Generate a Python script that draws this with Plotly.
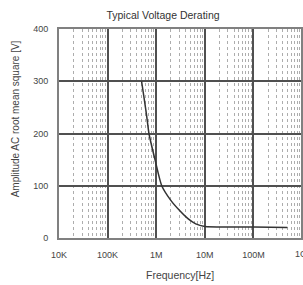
import plotly.graph_objects as go

freq_hz = [5.0e5, 5.7e5, 6.4e5, 7.1e5, 9.5e5, 1.3e6, 2.0e6, 3.0e6, 4.5e6, 6.5e6, 1.0e7, 3.0e7, 1.0e8, 5.0e8]
volt_rms = [300, 265, 232, 200, 149, 100, 72, 53, 37, 27, 22, 21, 21, 20]

tick_vals = [1e4, 1e5, 1e6, 1e7, 1e8]
tick_text = ["10K", "100K", "1M", "10M", "100M"]
clipped_tick = "1G"
y_ticks = [0, 100, 200, 300, 400]

W, H = 303, 285
L, T, B = 59, 29, 47
PW, PH = W - L, H - T - B

font_main = "Liberation Sans, Arial, sans-serif"
txt = "#444444"

fig = go.Figure()
fig.add_trace(go.Scatter(x=freq_hz, y=volt_rms, mode="lines",
                         line=dict(color="#333333", width=1.5, shape="spline", smoothing=0.6),
                         showlegend=False, hoverinfo="skip"))

fig.update_layout(
    width=W, height=H,
    margin=dict(l=L, r=0, t=T, b=B, pad=0),
    paper_bgcolor="white", plot_bgcolor="white",
    font=dict(family=font_main, color=txt, size=9),
    title=dict(text="Typical Voltage Derating", x=163 / W, xanchor="center", xref="container",
               y=1 - 15 / H, yanchor="middle", yref="container",
               font=dict(size=10.5, color="#333333", family=font_main)),
)

fig.update_xaxes(
    type="log", range=[4, 4 + PW / 49.0],
    tickvals=tick_vals, ticktext=tick_text, ticks="",
    tickfont=dict(size=9, color=txt), ticklabelstandoff=7,
    showgrid=True, gridcolor="#505050", gridwidth=1.5,
    showline=True, linecolor="#808080", linewidth=2, mirror=True,
    zeroline=False,
    minor=dict(dtick="D1", showgrid=True, gridcolor="#adadad", griddash="dot", gridwidth=1, ticks=""),
)
fig.update_yaxes(
    range=[0, 400], tickvals=y_ticks, ticks="",
    tickfont=dict(size=9, color=txt), ticklabelstandoff=7,
    showgrid=True, gridcolor="#505050", gridwidth=1.5,
    showline=True, linecolor="#808080", linewidth=2, mirror=True,
    zeroline=False,
)

# tick label that falls at the clipped right edge
fig.add_annotation(text=clipped_tick, x=(303 - L) / PW, y=-(254 - (H - B)) / PH,
                   xref="paper", yref="paper", showarrow=False,
                   font=dict(size=9, color=txt), xanchor="center", yanchor="middle")
fig.add_annotation(text="Frequency[Hz]", x=(181 - L) / PW, y=-(275 - (H - B)) / PH,
                   xref="paper", yref="paper", showarrow=False,
                   font=dict(size=10.5, color=txt), xanchor="center", yanchor="middle")
fig.add_annotation(text="Amplitude AC root mean square [V]", textangle=-90,
                   x=-(L - 15) / PW, y=(H - B - 119) / PH,
                   xref="paper", yref="paper", showarrow=False,
                   font=dict(size=10, color=txt), xanchor="center", yanchor="middle")

fig.write_html("out.html", config={"displayModeBar": False},
               post_script="document.body.style.margin='0';document.body.style.overflow='hidden';")
